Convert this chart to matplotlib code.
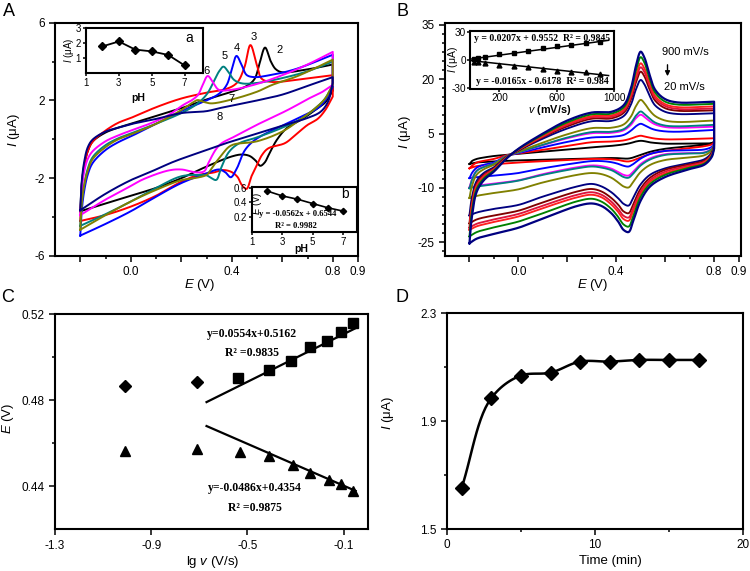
import numpy as np
import matplotlib
matplotlib.use('Agg')
import matplotlib.pyplot as plt
from matplotlib.ticker import FixedLocator

plt.rcParams['font.family'] = ['Liberation Sans', 'DejaVu Sans']
plt.rcParams['axes.unicode_minus'] = False
plt.rcParams['mathtext.fontset'] = 'custom'
plt.rcParams['mathtext.rm'] = 'Liberation Sans'
plt.rcParams['mathtext.it'] = 'Liberation Sans:italic'
plt.rcParams['mathtext.bf'] = 'Liberation Sans:bold'

# ---------------- Panel A : CVs at different pH ----------------
pH2_up_E = [-0.2, -0.195, -0.185, -0.17, -0.15, -0.1, -0.05, 0.0, 0.1, 0.2, 0.3, 0.4, 0.46, 0.49, 0.51, 0.532, 0.555, 0.575, 0.6, 0.7, 0.8]
pH2_up_I = [-3.7, -2.4, -1.4, -0.6, -0.1, 0.35, 0.6, 0.8, 1.2, 1.6, 2.05, 2.45, 2.75, 3.1, 3.9, 4.72, 4.0, 3.6, 3.45, 3.6, 3.85]
pH2_lo_E = [0.8, 0.77, 0.74, 0.68, 0.62, 0.58, 0.55, 0.53, 0.513, 0.495, 0.47, 0.44, 0.4, 0.3, 0.2, 0.1, 0.0, -0.1, -0.2]
pH2_lo_I = [2.5, 1.9, 1.6, 1.05, 0.6, 0.0, -0.7, -1.2, -1.36, -1.1, -0.85, -0.78, -0.88, -1.4, -2.0, -2.5, -2.9, -3.3, -3.7]

pH3_up_E = [-0.2, -0.195, -0.185, -0.17, -0.15, -0.1, -0.05, 0.0, 0.1, 0.2, 0.3, 0.38, 0.42, 0.45, 0.474, 0.5, 0.52, 0.56, 0.65, 0.8]
pH3_up_I = [-4.2, -2.6, -1.4, -0.6, -0.1, 0.45, 0.85, 1.1, 1.65, 2.1, 2.4, 2.6, 2.9, 3.7, 4.85, 3.8, 3.1, 2.95, 3.05, 3.3]
pH3_lo_E = [0.8, 0.77, 0.74, 0.7, 0.65, 0.61, 0.545, 0.52, 0.506, 0.48, 0.458, 0.44, 0.422, 0.396, 0.364, 0.33, 0.266, 0.2, 0.1, 0.0, -0.1, -0.2]
pH3_lo_I = [2.2, 1.5, 1.05, 0.74, 0.2, -0.2, -0.46, -0.8, -1.15, -1.84, -2.55, -2.35, -1.92, -1.66, -1.58, -1.7, -1.84, -2.18, -2.9, -3.46, -3.89, -4.2]

pH4_up_E = [-0.2, -0.195, -0.185, -0.17, -0.15, -0.1, -0.05, 0.0, 0.1, 0.2, 0.3, 0.35, 0.38, 0.4, 0.419, 0.44, 0.46, 0.49, 0.55, 0.65, 0.8]
pH4_up_I = [-4.95, -3.8, -2.7, -1.8, -1.2, -0.55, -0.15, 0.15, 0.8, 1.45, 2.0, 2.35, 2.8, 3.6, 4.29, 3.8, 3.3, 3.2, 3.3, 3.6, 4.35]
pH4_lo_E = [0.8, 0.77, 0.74, 0.68, 0.6, 0.52, 0.48, 0.45, 0.42, 0.396, 0.375, 0.35, 0.3, 0.2, 0.1, 0.0, -0.1, -0.2]
pH4_lo_I = [2.7, 2.0, 1.6, 1.2, 0.7, 0.2, -0.15, -0.6, -1.5, -1.95, -1.7, -1.55, -1.75, -2.25, -2.95, -3.7, -4.35, -4.95]

pH5_up_E = [-0.2, -0.195, -0.185, -0.17, -0.15, -0.1, -0.05, 0.0, 0.1, 0.2, 0.26, 0.3, 0.33, 0.35, 0.367, 0.385, 0.41, 0.44, 0.5, 0.6, 0.7, 0.8]
pH5_up_I = [-4.45, -3.4, -2.4, -1.5, -0.9, -0.3, 0.05, 0.3, 0.8, 1.35, 1.8, 2.3, 3.0, 3.5, 3.74, 3.5, 3.05, 2.88, 2.9, 3.15, 3.5, 4.0]
pH5_lo_E = [0.8, 0.77, 0.74, 0.68, 0.6, 0.5, 0.43, 0.39, 0.36, 0.338, 0.32, 0.3, 0.273, 0.2, 0.1, 0.0, -0.1, -0.2]
pH5_lo_I = [2.8, 2.1, 1.7, 1.1, 0.6, 0.1, -0.2, -0.63, -1.4, -2.09, -2.0, -1.85, -1.83, -1.9, -2.5, -3.2, -3.85, -4.45]

pH6_up_E = [-0.2, -0.195, -0.185, -0.17, -0.15, -0.1, -0.05, 0.0, 0.078, 0.15, 0.208, 0.24, 0.266, 0.285, 0.305, 0.325, 0.35, 0.4, 0.5, 0.6, 0.7, 0.8]
pH6_up_I = [-3.9, -2.7, -1.7, -1.0, -0.6, -0.1, 0.2, 0.45, 0.82, 1.25, 1.77, 2.0, 2.28, 2.8, 3.26, 2.95, 2.54, 2.55, 2.85, 3.3, 3.85, 4.5]
pH6_lo_E = [0.8, 0.76, 0.72, 0.62, 0.5, 0.42, 0.36, 0.338, 0.31, 0.29, 0.26, 0.2, 0.15, 0.05, 0.0, -0.1, -0.2]
pH6_lo_I = [2.8, 2.45, 2.2, 1.5, 0.75, 0.2, -0.2, -0.5, -1.15, -1.65, -1.7, -1.55, -1.6, -2.05, -2.4, -3.1, -3.9]

pH7_up_E = [-0.2, -0.195, -0.185, -0.17, -0.15, -0.1, -0.05, 0.0, 0.1, 0.2, 0.24, 0.265, 0.29, 0.32, 0.4, 0.5, 0.56, 0.65, 0.72, 0.8]
pH7_up_I = [-4.65, -3.4, -2.4, -1.6, -1.0, -0.4, 0.0, 0.25, 0.8, 1.5, 1.85, 2.02, 1.92, 1.85, 2.05, 2.45, 2.8, 3.2, 3.6, 4.1]
pH7_lo_E = [0.8, 0.77, 0.74, 0.68, 0.6, 0.5, 0.4, 0.36, 0.32, 0.3, 0.25, 0.2, 0.1, 0.0, -0.1, -0.2]
pH7_lo_I = [2.8, 2.1, 1.7, 1.1, 0.4, -0.1, -0.3, -0.8, -1.5, -1.83, -2.0, -2.1, -2.6, -3.2, -3.9, -4.65]

pH8_up_E = [-0.2, -0.195, -0.185, -0.17, -0.15, -0.1, -0.05, 0.0, 0.1, 0.2, 0.3, 0.35, 0.5, 0.6, 0.7, 0.8]
pH8_up_I = [-3.65, -2.3, -1.2, -0.4, 0.0, 0.4, 0.6, 0.78, 1.05, 1.35, 1.45, 1.6, 2.0, 2.3, 2.75, 3.2]
pH8_lo_E = [0.8, 0.78, 0.75, 0.7, 0.61, 0.5, 0.4, 0.3, 0.17, 0.1, 0.0, -0.1, -0.2]
pH8_lo_I = [2.9, 1.9, 1.4, 1.1, 0.74, 0.3, -0.1, -0.55, -1.15, -1.55, -2.1, -2.8, -3.65]

A_labels = ['2', '3', '4', '5', '6', '7', '8']
A_colors = ['#000000', '#ff0000', '#0000ff', '#008080', '#ff00ff', '#808000', '#000080']

# inset a : peak current vs pH
inset_a_pH = [2, 3, 4, 5, 6, 7]
inset_a_I = [1.78, 2.11, 1.56, 1.44, 1.2, 0.49]
# inset b : peak potential vs pH
inset_b_pH = [2, 3, 4, 5, 6, 7]
inset_b_E = [0.555, 0.488, 0.443, 0.384, 0.326, 0.281]

# ---------------- Panel B : CVs at different scan rates ----------------
B_E_up = [-0.2, -0.19, -0.17, -0.14, -0.1, -0.05, 0.0, 0.1, 0.2, 0.3, 0.38, 0.43, 0.46, 0.48, 0.50, 0.515, 0.535, 0.56, 0.6, 0.65, 0.8]
B_E_lo = [0.8, 0.79, 0.76, 0.7, 0.6, 0.54, 0.5, 0.47, 0.45, 0.43, 0.41, 0.38, 0.34, 0.3, 0.24, 0.1, 0.0, -0.1, -0.17, -0.2]

cv01_up = [-3.4, -2.6, -2.0, -1.6, -1.2, -0.9, -0.6, 0.0, 0.6, 1.2, 1.6, 2.0, 2.4, 2.8, 3.0, 2.9, 2.6, 2.4, 2.2, 2.2, 2.3]
cv01_lo = [2.8, 2.3, 1.9, 1.5, 0.8, 0.0, -0.9, -1.6, -1.9, -1.9, -1.8, -1.75, -1.8, -1.85, -1.95, -2.2, -2.4, -2.7, -3.0, -3.4]
cv02_up = [-4.6, -3.9, -3.0, -2.5, -2.0, -1.0, -0.5, 0.5, 1.6, 2.6, 2.8, 3.1, 3.6, 4.1, 4.4, 4.2, 3.9, 3.6, 3.4, 3.4, 3.7]
cv02_lo = [2.5, 2.0, 1.5, 1.0, 0.2, -0.6, -1.6, -2.4, -2.7, -2.6, -2.3, -2.1, -2.0, -2.0, -2.2, -2.6, -3.0, -3.5, -4.0, -4.6]
cv03_up = [-7.3, -5.9, -4.4, -3.6, -3.0, -1.2, -0.4, 1.2, 2.7, 3.9, 4.1, 4.6, 5.8, 7.0, 7.7, 7.3, 6.6, 6.0, 5.6, 5.5, 6.0]
cv03_lo = [2.3, 1.3, 0.6, 0.4, 0.2, -0.6, -1.9, -3.4, -4.1, -3.9, -3.4, -2.9, -2.6, -2.6, -3.1, -4.6, -5.9, -6.6, -7.0, -7.3]
cv04_up = [-9.9, -7.6, -5.2, -4.1, -3.3, -1.2, -0.2, 1.8, 3.7, 5.1, 5.2, 5.9, 7.4, 9.2, 10.2, 9.6, 8.5, 7.5, 6.8, 6.6, 6.9]
cv04_lo = [2.15, 0.8, -0.2, -0.4, -0.7, -1.8, -3.4, -5.5, -6.6, -6.4, -5.7, -4.7, -4.0, -3.8, -4.3, -6.2, -7.9, -8.8, -9.4, -9.9]
cv05_up = [-10.1, -7.8, -5.3, -4.2, -3.3, -1.2, -0.2, 1.9, 3.9, 5.4, 5.5, 6.2, 7.9, 9.9, 11.1, 10.4, 9.2, 8.0, 7.2, 7.0, 7.4]
cv05_lo = [2.05, 0.7, -0.3, -0.5, -0.9, -2.1, -3.8, -6.0, -7.2, -7.0, -6.2, -5.1, -4.4, -4.1, -4.6, -6.4, -8.0, -9.0, -9.6, -10.1]
cv06_up = [-12.8, -9.5, -6.3, -4.8, -3.6, -1.3, 0.0, 2.5, 4.8, 6.5, 6.6, 7.5, 9.7, 12.5, 14.3, 13.4, 11.5, 9.8, 8.6, 8.2, 8.6]
cv06_lo = [1.9, 0.3, -1.0, -1.6, -2.3, -3.6, -5.6, -8.3, -9.9, -9.6, -8.6, -7.2, -6.2, -5.9, -6.4, -8.5, -10.4, -11.4, -12.2, -12.8]
cv07_up = [-17.6, -12.6, -8.0, -5.8, -4.3, -1.5, 0.3, 3.6, 6.4, 8.4, 8.5, 9.8, 13.0, 17.1, 19.8, 18.6, 15.6, 12.7, 11.0, 10.4, 10.6]
cv07_lo = [1.7, -0.3, -2.1, -3.1, -4.6, -6.3, -9.0, -12.6, -14.9, -14.4, -13.0, -11.2, -9.6, -8.9, -9.6, -12.4, -14.7, -15.8, -16.8, -17.6]
cv08_up = [-19.8, -14.0, -8.7, -6.3, -4.6, -1.6, 0.4, 4.0, 7.0, 9.1, 9.2, 10.7, 14.4, 19.0, 22.1, 20.8, 17.4, 14.0, 12.0, 11.3, 11.4]
cv08_lo = [1.5, -0.6, -2.5, -3.5, -5.0, -7.1, -10.2, -14.4, -17.0, -16.5, -14.8, -12.8, -11.0, -10.3, -11.0, -14.0, -16.3, -17.6, -18.7, -19.8]
cv09_up = [-21.0, -14.8, -9.2, -6.6, -4.8, -1.7, 0.5, 4.2, 7.4, 9.5, 9.6, 11.2, 15.1, 20.0, 23.3, 22.0, 18.4, 14.7, 12.6, 11.8, 11.9]
cv09_lo = [1.3, -0.8, -2.8, -3.8, -5.5, -7.7, -11.0, -15.5, -18.2, -17.7, -16.0, -13.8, -11.9, -11.2, -11.9, -14.9, -17.2, -18.7, -19.9, -21.0]
cv10_up = [-21.6, -15.2, -9.5, -6.9, -5.0, -1.8, 0.6, 4.4, 7.7, 9.8, 10.0, 11.6, 15.7, 20.9, 24.4, 23.0, 19.2, 15.3, 13.1, 12.3, 12.5]
cv10_lo = [1.1, -1.0, -3.0, -4.1, -6.0, -8.2, -11.6, -16.3, -19.1, -18.6, -16.8, -14.6, -12.6, -11.9, -12.6, -15.6, -17.9, -19.4, -20.6, -21.6]
cv11_up = [-23.4, -16.5, -10.2, -7.3, -5.2, -1.9, 0.7, 4.7, 8.1, 10.3, 10.5, 12.2, 16.7, 22.3, 26.1, 24.6, 20.4, 16.2, 13.8, 13.0, 13.2]
cv11_lo = [1.0, -1.2, -3.3, -4.4, -6.4, -8.8, -12.4, -17.7, -20.7, -20.1, -18.2, -15.8, -13.8, -13.0, -13.7, -17.0, -19.3, -20.9, -22.2, -23.4]
cv12_up = [-25.3, -18.0, -11.0, -7.8, -5.5, -2.0, 0.8, 5.0, 8.6, 10.8, 11.0, 12.8, 17.5, 23.5, 27.6, 26.0, 21.5, 17.0, 14.5, 13.6, 13.8]
cv12_lo = [0.8, -1.5, -3.6, -4.8, -7.0, -9.5, -13.5, -19.0, -22.2, -21.6, -19.5, -17.0, -15.0, -14.3, -15.0, -18.5, -21.0, -22.7, -24.0, -25.3]
B_colors = ['#000000', '#ff0000', '#0000ff', '#ff00ff', '#008080', '#808000',
            '#000080', '#800000', '#dc143c', '#ff2020', '#008000', '#000080']

# inset of B : peak currents vs scan rate
scan_rate = [20, 50, 100, 200, 300, 400, 500, 600, 700, 800, 900]
ipa = [1.0, 1.8, 3.4, 6.8, 7.6, 9.6, 13.0, 15.2, 16.0, 18.2, 19.5]
ipc = [-1.8, -2.5, -3.5, -4.9, -6.0, -7.8, -9.5, -11.3, -12.7, -13.0, -14.8]
fit_a = [0.0207, 0.9552]
fit_c = [-0.0165, -0.6178]

# ---------------- Panel C : peak potential vs lg v ----------------
lgv_dia = [-1.01, -0.71]
E_dia = [0.4867, 0.4882]
lgv_sq = [-0.54, -0.41, -0.32, -0.24, -0.17, -0.11, -0.06]
E_sq = [0.4901, 0.4940, 0.4983, 0.5045, 0.5073, 0.5118, 0.5159]
lgv_tri = [-1.01, -0.71, -0.53, -0.41, -0.31, -0.24, -0.16, -0.11, -0.06]
E_tri = [0.4564, 0.4572, 0.4561, 0.4541, 0.4499, 0.4463, 0.4429, 0.4412, 0.4377]
fit_up = [0.0554, 0.5162]
fit_dn = [-0.0486, 0.4354]
fit_range = [-0.67, -0.05]

# ---------------- Panel D : current vs time ----------------
time_min = [1, 3, 5, 7, 9, 11, 13, 15, 17]
current_D = [1.651, 1.985, 2.069, 2.080, 2.121, 2.121, 2.127, 2.127, 2.127]

# =====================================================================
W, H = 750, 571
fig = plt.figure(figsize=(7.5, 5.71), dpi=100)


def box(l, t, r, b):
    return [l / W, 1 - b / H, (r - l) / W, (b - t) / H]


def ftext(x, y, s, ha='center', va='center', **kw):
    fig.text(x / W, 1 - y / H, s, ha=ha, va=va, **kw)


def smooth(x, y, sx, sy, n=14):
    P = np.column_stack([np.asarray(x, float) / sx, np.asarray(y, float) / sy])
    P = np.vstack([2 * P[0] - P[1], P, 2 * P[-1] - P[-2]])
    out = []
    for i in range(1, len(P) - 2):
        p0, p1, p2, p3 = P[i - 1], P[i], P[i + 1], P[i + 2]
        d01 = max(np.hypot(*(p1 - p0)) ** 0.5, 1e-6)
        d12 = max(np.hypot(*(p2 - p1)) ** 0.5, 1e-6)
        d23 = max(np.hypot(*(p3 - p2)) ** 0.5, 1e-6)
        t0, t1 = 0.0, d01
        t2 = t1 + d12
        t3 = t2 + d23
        t = np.linspace(t1, t2, n, endpoint=False)[:, None]
        A1 = (t1 - t) / (t1 - t0) * p0 + (t - t0) / (t1 - t0) * p1
        A2 = (t2 - t) / (t2 - t1) * p1 + (t - t1) / (t2 - t1) * p2
        A3 = (t3 - t) / (t3 - t2) * p2 + (t - t2) / (t3 - t2) * p3
        B1 = (t2 - t) / (t2 - t0) * A1 + (t - t0) / (t2 - t0) * A2
        B2 = (t3 - t) / (t3 - t1) * A2 + (t - t1) / (t3 - t1) * A3
        out.append((t2 - t) / (t2 - t1) * B1 + (t - t1) / (t2 - t1) * B2)
    out.append(P[-2][None, :])
    out = np.vstack(out)
    return out[:, 0] * sx, out[:, 1] * sy


def cv_loop(ax, Eu, Iu, El, Il, sx, sy, **kw):
    xu, yu = smooth(Eu, Iu, sx, sy)
    xl, yl = smooth(El, Il, sx, sy)
    ax.plot(np.concatenate([xu, xl]), np.concatenate([yu, yl]), **kw)


def style(ax, ls=8.5):
    for s in ax.spines.values():
        s.set_linewidth(1.5)
    ax.tick_params(which='both', direction='out', width=1.1, labelsize=ls)
    ax.tick_params(which='major', length=4)
    ax.tick_params(which='minor', length=2.5)


# ---------------- A ----------------
axA = fig.add_axes(box(55, 22.7, 358, 256))
A_sets = [(pH2_up_E, pH2_up_I, pH2_lo_E, pH2_lo_I), (pH3_up_E, pH3_up_I, pH3_lo_E, pH3_lo_I),
          (pH4_up_E, pH4_up_I, pH4_lo_E, pH4_lo_I), (pH5_up_E, pH5_up_I, pH5_lo_E, pH5_lo_I),
          (pH6_up_E, pH6_up_I, pH6_lo_E, pH6_lo_I), (pH7_up_E, pH7_up_I, pH7_lo_E, pH7_lo_I),
          (pH8_up_E, pH8_up_I, pH8_lo_E, pH8_lo_I)]
for (Eu, Iu, El, Il), c in zip(A_sets, A_colors):
    cv_loop(axA, Eu, Iu, El, Il, 1.2, 12.0, color=c, lw=1.4)
axA.set_xlim(-0.3, 0.9)
axA.set_ylim(-6, 6)
axA.xaxis.set_major_locator(FixedLocator([-0.2, 0.0, 0.2, 0.4, 0.6, 0.8, 0.9]))
axA.set_xticklabels(['', '0.0', '', '0.4', '', '0.8', '0.9'])
axA.xaxis.set_minor_locator(FixedLocator([-0.1, 0.1, 0.3, 0.5, 0.7]))
axA.yaxis.set_major_locator(FixedLocator([-6, -2, 2, 6]))
axA.yaxis.set_minor_locator(FixedLocator([-4, 0, 4]))
style(axA)
for lab, (x, y) in zip(A_labels, [(280, 50), (254, 37), (237, 48), (225, 56), (206, 71), (231, 99), (220, 117)]):
    ftext(x, y, lab, fontsize=8)

# inset a
axa = fig.add_axes(box(86, 28.3, 202.7, 72.7))
axa.plot(inset_a_pH, inset_a_I, '-D', color='k', ms=4, lw=1.3)
axa.set_xlim(1, 8.1)
axa.set_ylim(0, 3)
axa.set_xticks([1, 3, 5, 7])
axa.set_yticks([1, 2, 3])
style(axa, 7)
axa.tick_params(which='major', length=2, pad=1.5)
ftext(138, 98, 'pH', fontsize=7.5, fontweight='bold')
ftext(69, 50, '$I$ (μA)', fontsize=7, rotation=90)
ftext(189, 38, 'a', fontsize=10)

# inset b
axb = fig.add_axes(box(251.7, 186.7, 356.7, 231.7))
axb.plot(inset_b_pH, inset_b_E, '-D', color='k', ms=3.2, lw=1.2)
axb.set_xlim(1, 7.9)
axb.set_ylim(0.0, 0.613)
axb.set_xticks([1, 3, 5, 7])
axb.set_yticks([0.2, 0.4, 0.6])
axb.set_yticklabels(['0.2', '0.4', '0.6'])
style(axb, 7)
axb.tick_params(which='major', length=2, pad=1.5)
ftext(301, 249, 'pH', fontsize=7.5, fontweight='bold')
ftext(257, 203, '$E$ (V)', fontsize=7, rotation=90)
ftext(345, 194, 'b', fontsize=10)
ftext(298, 214, 'y = -0.0562x + 0.6544', fontsize=6.2, family='Liberation Serif', fontweight='bold')
ftext(296, 226.5, 'R² = 0.9982', fontsize=6.2, family='Liberation Serif', fontweight='bold')

ftext(14, 130, '$I$ (μA)', fontsize=9.5, rotation=90)
ftext(200, 285, '$E$ (V)', fontsize=9.5)
ftext(9, 12, 'A', fontsize=13)

# ---------------- B ----------------
axB = fig.add_axes(box(445, 22.7, 741, 256))
B_up = [cv01_up, cv02_up, cv03_up, cv04_up, cv05_up, cv06_up, cv07_up, cv08_up, cv09_up, cv10_up, cv11_up, cv12_up]
B_lo = [cv01_lo, cv02_lo, cv03_lo, cv04_lo, cv05_lo, cv06_lo, cv07_lo, cv08_lo, cv09_lo, cv10_lo, cv11_lo, cv12_lo]
for k, (iu, il, c) in enumerate(zip(B_up, B_lo, B_colors)):
    cv_loop(axB, B_E_up, iu, B_E_lo, il, 1.2, 64.0, color=c, lw=1.6 if k == 11 else 1.35)
axB.set_xlim(-0.3, 0.91)
axB.set_ylim(-28.8, 35.6)
axB.xaxis.set_major_locator(FixedLocator([-0.2, 0.0, 0.2, 0.4, 0.6, 0.8, 0.9]))
axB.set_xticklabels(['', '0.0', '', '0.4', '', '0.8', '0.9'])
axB.xaxis.set_minor_locator(FixedLocator([-0.1, 0.1, 0.3, 0.5, 0.7]))
axB.yaxis.set_major_locator(FixedLocator([-25, -10, 5, 20, 35]))
axB.yaxis.set_minor_locator(FixedLocator([-27.5, -22.5, -20, -17.5, -15, -12.5, -7.5, -5, -2.5, 0, 2.5,
                                          7.5, 10, 12.5, 15, 17.5, 22.5, 25, 27.5, 30, 32.5]))
style(axB)
ftext(405, 132, '$I$ (μA)', fontsize=9.5, rotation=90)
ftext(593, 285, '$E$ (V)', fontsize=9.5)
ftext(402, 12, 'B', fontsize=13)
ftext(685, 52, '900 mV/s', fontsize=8)
ftext(684, 87, '20 mV/s', fontsize=8)
fig.add_artist(matplotlib.patches.FancyArrowPatch((667.5 / W, 1 - 62 / H), (667.5 / W, 1 - 79 / H),
                                                  transform=fig.transFigure, arrowstyle='-|>',
                                                  mutation_scale=7, lw=1.0, color='k'))

# inset of B
axBi = fig.add_axes(box(470, 30.7, 614.3, 89.3))
vv = np.array([0, 960])
axBi.plot(vv, fit_a[0] * vv + fit_a[1], color='k', lw=1.1)
axBi.plot(vv, fit_c[0] * vv + fit_c[1], color='k', lw=1.1)
axBi.plot(scan_rate, ipa, 's', color='k', ms=3.5)
axBi.plot(scan_rate, ipc, '^', color='k', ms=3.5)
axBi.set_xlim(-5, 1000)
axBi.set_ylim(-31, 31)
axBi.set_xticks([200, 600, 1000])
axBi.set_yticks([-30, 0, 30])
style(axBi, 7.2)
axBi.tick_params(which='major', length=2, pad=1.0)
ftext(542, 38.5, 'y = 0.0207x + 0.9552  R² = 0.9845', fontsize=7, family='Liberation Serif', fontweight='bold')
ftext(542, 81.5, 'y = -0.0165x - 0.6178  R² = 0.984', fontsize=7, family='Liberation Serif', fontweight='bold')
ftext(550, 110, '$v$ (mV/s)', fontsize=7.8, fontweight='bold')
ftext(453, 60, '$I$ (μA)', fontsize=7.5, rotation=90)

# ---------------- C ----------------
axC = fig.add_axes(box(55, 314, 367.7, 529.3))
xf = np.array(fit_range)
axC.plot(xf, fit_up[0] * xf + fit_up[1], color='k', lw=1.6)
axC.plot(xf, fit_dn[0] * xf + fit_dn[1], color='k', lw=1.6)
axC.plot(lgv_dia, E_dia, 'D', color='k', ms=6)
axC.plot(lgv_sq, E_sq, 's', color='k', ms=7)
axC.plot(lgv_tri, E_tri, '^', color='k', ms=7)
axC.set_xlim(-1.3, 0.0)
axC.set_ylim(0.42, 0.52)
axC.set_xticks([-1.3, -0.9, -0.5, -0.1])
axC.set_yticks([0.44, 0.48, 0.52])
axC.yaxis.set_minor_locator(FixedLocator([0.46, 0.50]))
style(axC)
ftext(252, 334, 'y=0.0554x+0.5162', fontsize=8.5, family='Liberation Serif', fontweight='bold')
ftext(252, 353, 'R² =0.9835', fontsize=8.5, family='Liberation Serif', fontweight='bold')
ftext(255, 488, 'y=-0.0486x+0.4354', fontsize=8.5, family='Liberation Serif', fontweight='bold')
ftext(255, 508, 'R² =0.9875', fontsize=8.5, family='Liberation Serif', fontweight='bold')
ftext(8, 418, '$E$ (V)', fontsize=9.5, rotation=90)
ftext(213, 562, 'lg $v$ (V/s)', fontsize=9.5)
ftext(8, 298, 'C', fontsize=13)

# ---------------- D ----------------
axD = fig.add_axes(box(446.7, 313.3, 743.3, 529))
xs, ys = smooth(time_min, current_D, 20.0, 0.8)
axD.plot(xs, ys, color='k', lw=1.8)
axD.plot(time_min, current_D, 'D', color='k', ms=7.5)
axD.set_xlim(0, 20)
axD.set_ylim(1.5, 2.3)
axD.set_xticks([0, 10, 20])
axD.xaxis.set_minor_locator(FixedLocator([5, 15]))
axD.set_yticks([1.5, 1.9, 2.3])
axD.yaxis.set_minor_locator(FixedLocator([1.7, 2.1]))
style(axD)
ftext(388, 413, '$I$ (μA)', fontsize=9.5, rotation=90)
ftext(610, 561, 'Time (min)', fontsize=9.5)
ftext(402, 298, 'D', fontsize=13)

fig.savefig('out.png', dpi=100)
